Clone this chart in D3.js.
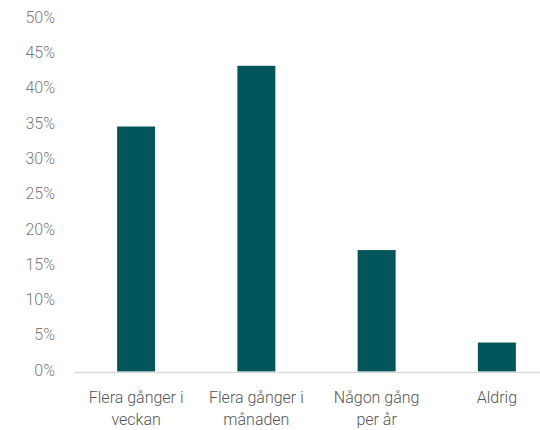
<html>
<head>
    <script src="https://d3js.org/d3.v7.min.js"></script>
    <style>
        body { margin: 0; background: #fff; }
    </style>
</head>
<body>
    <svg id="chart" width="540" height="430"></svg>
    <script>
        const categories = [["Flera gånger i", "veckan"], ["Flera gånger i", "månaden"], ["Någon gång", "per år"], ["Aldrig"]];
        const values = [34.7, 43.3, 17.2, 4.1];
        const ticks = [0, 5, 10, 15, 20, 25, 30, 35, 40, 45, 50];

        let svg = d3.select("#chart");

        let x = d3.scaleBand()
            .domain(d3.range(categories.length))
            .range([76, 557])
            .paddingInner(0.684)
            .paddingOuter(0.342);
        let y = d3.scaleLinear()
            .domain([0, 50])
            .range([371.5, 18.5]);

        // y tick labels (no grid, no axis line)
        ticks.forEach(t => {
            svg.append("text")
                .attr("x", 55)
                .attr("y", y(t))
                .attr("text-anchor", "end")
                .attr("dominant-baseline", "middle")
                .attr("font-family", "Roboto")
                .attr("font-weight", 300)
                .attr("font-size", "16px")
                .attr("fill", "#7a7a7a")
                .text(t + "%");
        });

        // bars
        values.forEach((v, i) => {
            svg.append("rect")
                .attr("x", x(i))
                .attr("y", y(v))
                .attr("width", x.bandwidth())
                .attr("height", y(0) - y(v))
                .attr("fill", "#02555a");
        });

        // baseline
        svg.append("line")
            .attr("x1", 75)
            .attr("x2", 540)
            .attr("y1", y(0) + 1)
            .attr("y2", y(0) + 1)
            .attr("stroke", "#d9d9d9")
            .attr("stroke-width", 1.5);

        // category labels
        categories.forEach((lines, i) => {
            let t = svg.append("text")
                .attr("text-anchor", "middle")
                .attr("font-family", "Roboto")
                .attr("font-weight", 300)
                .attr("font-size", "16px")
                .attr("fill", "#555555");
            lines.forEach((s, j) => {
                t.append("tspan")
                    .attr("x", x(i) + x.bandwidth() / 2)
                    .attr("y", 403 + j * 22)
                    .text(s);
            });
        });
    </script>
</body>
</html>
